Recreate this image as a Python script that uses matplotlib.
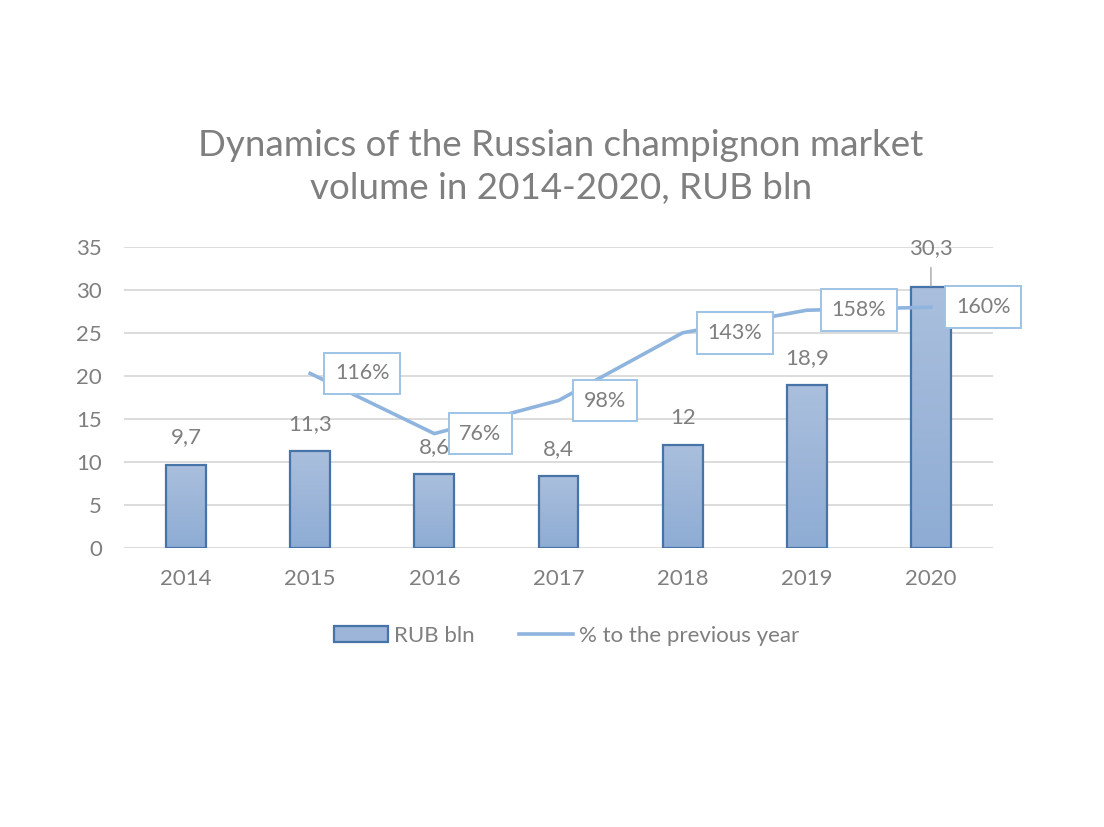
import matplotlib
matplotlib.use("Agg")
import matplotlib.pyplot as plt
import numpy as np
from matplotlib.patches import Patch
from matplotlib.lines import Line2D
from matplotlib.colors import LinearSegmentedColormap

years = ["2014", "2015", "2016", "2017", "2018", "2019", "2020"]
volume = [9.7, 11.3, 8.6, 8.4, 12.0, 18.9, 30.3]
growth_years = ["2015", "2016", "2017", "2018", "2019", "2020"]
growth_pct = [116, 76, 98, 143, 158, 160]
growth_labels = ["116%", "76%", "98%", "143%", "158%", "160%"]
y_ticks = [0, 5, 10, 15, 20, 25, 30, 35]

plt.rcParams['font.family'] = ['Lato', 'DejaVu Sans']
GRAY = "#7f7f7f"
LINE = "#8fb4de"
EDGE = "#4674a8"

fig = plt.figure(figsize=(11.04, 8.27), dpi=100)
ax = fig.add_axes([124/1104, 1-548/827, (993-124)/1104, (548-247)/827])
x = np.arange(len(years))
bars = ax.bar(x, volume, width=0.32, facecolor="none", edgecolor=EDGE, linewidth=1.6, zorder=3)

cmap = LinearSegmentedColormap.from_list("g", ["#8eacd4", "#aabfdd"])
grad = np.linspace(0, 1, 256).reshape(-1, 1)
for b in bars:
    x0, w, h = b.get_x(), b.get_width(), b.get_height()
    im = ax.imshow(grad, extent=[x0, x0 + w, 0, h], origin="lower", aspect="auto",
                   cmap=cmap, zorder=2)
    im.set_clip_path(b)

ax.set_xlim(-0.5, len(years) - 0.5)
ax.set_ylim(0, 35)
ax.set_yticks(y_ticks)
ax.set_xticks(x)
ax.set_xticklabels(years)
ax.tick_params(length=0, labelsize=16, colors=GRAY)
ax.tick_params(axis="x", pad=15)
ax.tick_params(axis="y", pad=16)
ax.grid(axis="y", color="#d9d9d9", linewidth=1.3, zorder=0)
for s in ax.spines.values():
    s.set_visible(False)

for i, (b, v) in enumerate(zip(bars, volume)):
    txt = f"{v:g}".replace(".", ",")
    if i == len(volume) - 1:
        ax.annotate(txt, xy=(b.get_x() + b.get_width()/2, v), xytext=(0, 28.5),
                    textcoords="offset points", ha="center", va="center",
                    fontsize=16, color=GRAY,
                    arrowprops=dict(arrowstyle="-", color="#a6a6a6", lw=1,
                                    shrinkA=5, shrinkB=1))
    else:
        ax.annotate(txt, xy=(b.get_x() + b.get_width()/2, v), xytext=(0, 19.5),
                    textcoords="offset points", ha="center", va="center",
                    fontsize=16, color=GRAY)

ax2 = ax.twinx()
ax2.set_ylim(0, 200)
ax2.axis("off")
gx = [years.index(y) for y in growth_years]
ax2.plot(gx, growth_pct, color=LINE, linewidth=2.6, zorder=4)
for xi, yi, lab in zip(gx, growth_pct, growth_labels):
    ax2.annotate(lab, xy=(xi, yi), xytext=(18, 0), textcoords="offset points",
                 ha="left", va="center", fontsize=15.5, color=GRAY, zorder=5,
                 bbox=dict(boxstyle="square,pad=0.5", fc="white", ec="#9dc3e6", lw=1.4))

fig.text(561/1104, 1-167/827, "Dynamics of the Russian champignon market\nvolume in 2014-2020, RUB bln",
         ha="center", va="center", fontsize=26.5, color=GRAY, linespacing=1.35)

handles = [Patch(facecolor="#9cb5d9", edgecolor=EDGE, linewidth=1.6),
           Line2D([0], [0], color=LINE, linewidth=2.6)]
fig.legend(handles, ["RUB bln", "% to the previous year"], loc="center",
           bbox_to_anchor=(567/1104, 1-636/827), ncol=2, frameon=False,
           fontsize=16, labelcolor=GRAY, handlelength=2.4, handleheight=0.7,
           columnspacing=2.0, handletextpad=0.3)

fig.savefig("out.png", dpi=100, facecolor="white")
